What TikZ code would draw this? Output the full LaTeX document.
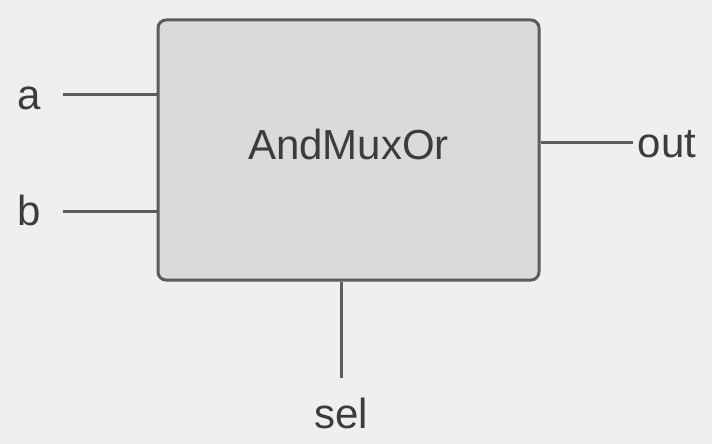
\documentclass[tikz,border=0pt]{standalone}
\usepackage{fontspec}
\setmainfont{Liberation Sans}
\usetikzlibrary{calc}

\definecolor{bggray}{HTML}{EFEFEF}
\definecolor{boxgray}{HTML}{DADADA}
\definecolor{wiregray}{HTML}{5C5C5C}
\definecolor{txtgray}{HTML}{3C3C3C}

\tikzset{
    block/.style={draw=wiregray, fill=boxgray, line width=3pt,
        rounded corners=8pt, minimum width=381pt, minimum height=260pt,
        inner sep=0pt},
    wire/.style={draw=wiregray, line width=3pt},
    pin/.style={text=txtgray, font=\fontsize{42}{42}\selectfont,
        inner sep=0pt, anchor=base}
}

\begin{document}
\begin{tikzpicture}[x=1pt, y=-1pt]
        % 背景与页面大小
        \fill[bggray] (0, 0) rectangle (712, 444);
        \useasboundingbox (0, 0) rectangle (712, 444);

        % 模块本体
        \node[block] (mux) at (348.5, 150) {};
        \node[pin, anchor=center] (title) at ($(mux.center) + (0, -6)$) {AndMuxOr};

        % 端口标签
        \node[pin] (a) at (29, 110) {a};
        \node[pin] (b) at (29, 225) {b};
        \node[pin] (out) at (667, 157) {out};
        \node[pin] (sel) at (341, 428) {sel};

        % 连线端点
        \coordinate (ain) at (63, 94);
        \coordinate (bin) at (63, 211);
        \coordinate (oend) at (633, 142);
        \coordinate (send) at (341, 378);

        \draw[wire] (ain) -- (ain -| mux.west);
        \draw[wire] (bin) -- (bin -| mux.west);
        \draw[wire] (oend -| mux.east) -- (oend);
        \draw[wire] (send |- mux.south) -- (send);
    \end{tikzpicture}
\end{document}
